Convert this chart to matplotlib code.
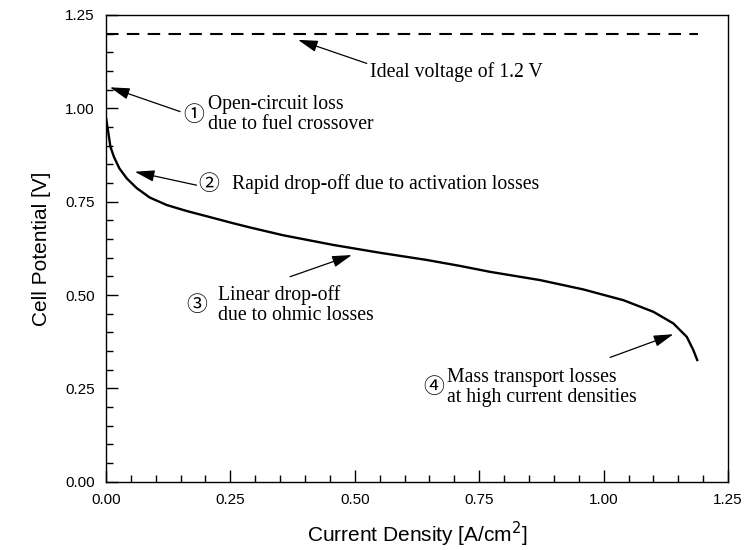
import numpy as np
import matplotlib.pyplot as plt
from matplotlib.ticker import MultipleLocator, FormatStrFormatter

# polarization curve
current = [0.0, 0.001, 0.005, 0.009, 0.016, 0.027, 0.042, 0.062, 0.088, 0.122,
           0.162, 0.202, 0.256, 0.289, 0.356, 0.457, 0.551, 0.644, 0.711, 0.772,
           0.872, 0.959, 1.040, 1.100, 1.140, 1.167, 1.180, 1.188]
potential = [0.975, 0.968, 0.933, 0.897, 0.870, 0.839, 0.812, 0.786, 0.761, 0.741,
             0.725, 0.711, 0.692, 0.681, 0.660, 0.634, 0.613, 0.594, 0.578, 0.562,
             0.540, 0.515, 0.486, 0.455, 0.424, 0.388, 0.353, 0.326]

ideal_v = 1.2
ideal_x = [0.0, 1.19]

# annotations: (text, arrow head, arrow tail)
notes = [
    ("Ideal voltage of 1.2 V", (0.386, 1.183), (0.524, 1.120)),
    ("Open-circuit loss\ndue to fuel crossover", (0.008, 1.056), (0.149, 0.991)),
    ("Rapid drop-off due to activation losses", (0.058, 0.830), (0.182, 0.794)),
    ("Linear drop-off\ndue to ohmic losses", (0.494, 0.607), (0.370, 0.549)),
    ("Mass transport losses\nat high current densities", (1.140, 0.395), (1.013, 0.333)),
]
marks = ["", "\u2460", "\u2461", "\u2462", "\u2463"]
mark_pos = [None, (0.177, 0.982), (0.207, 0.798), (0.182, 0.474), (0.658, 0.253)]
text_pos = [(0.530, 1.096), (0.205, 0.984), (0.254, 0.798), (0.225, 0.474), (0.685, 0.253)]

serif = ["Liberation Serif", "DejaVu Sans"]
sans = ["Liberation Sans", "DejaVu Sans"]

fig = plt.figure(figsize=(7.46, 5.5), dpi=100)
ax = fig.add_axes([0.142, 0.124, 0.834, 0.849])

ax.plot(current, potential, color="black", lw=1.7)
ax.plot(ideal_x, [ideal_v, ideal_v], color="black", lw=1.5, ls=(0, (6, 4)))

for i, (txt, head, tail) in enumerate(notes):
    ax.annotate("", xy=head, xytext=tail,
                arrowprops=dict(arrowstyle="-|>,head_length=1.2,head_width=0.35",
                                color="black", lw=0.9, shrinkA=0, shrinkB=0))
    ax.text(*text_pos[i], txt, family=serif, fontsize=14.2, ha="left", va="center",
            linespacing=1.05)
    if marks[i]:
        ax.text(*mark_pos[i], marks[i], family=["Noto Sans CJK JP", "DejaVu Sans"],
                fontsize=15, ha="center", va="center")

ax.set_xlim(0, 1.25)
ax.set_ylim(0, 1.25)
ax.xaxis.set_major_locator(MultipleLocator(0.25))
ax.yaxis.set_major_locator(MultipleLocator(0.25))
ax.xaxis.set_minor_locator(MultipleLocator(0.05))
ax.yaxis.set_minor_locator(MultipleLocator(0.05))
ax.xaxis.set_major_formatter(FormatStrFormatter("%.2f"))
ax.yaxis.set_major_formatter(FormatStrFormatter("%.2f"))
ax.tick_params(which="major", direction="in", length=8.5, width=1.0, labelsize=11, pad=8)
ax.tick_params(which="minor", direction="in", length=5, width=1.0)
for lab in ax.get_xticklabels() + ax.get_yticklabels():
    lab.set_family(sans)
for sp in ax.spines.values():
    sp.set_linewidth(1.0)

ax.set_xlabel("Current Density [A/cm$^2$]", family=sans, fontsize=15, labelpad=9)
ax.set_ylabel("Cell Potential [V]", family=sans, fontsize=15, labelpad=10)

fig.savefig("out.png", dpi=100)
